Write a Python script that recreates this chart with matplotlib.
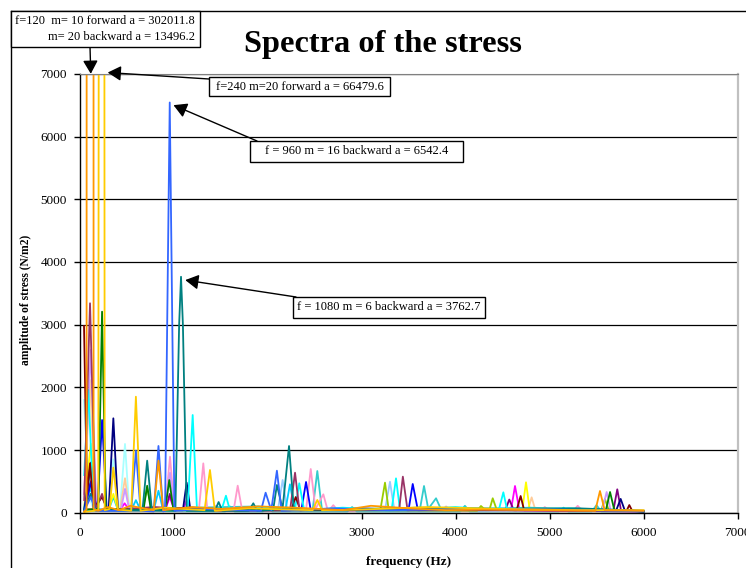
import matplotlib
matplotlib.use("Agg")
import matplotlib.pyplot as plt
from matplotlib.patches import Rectangle
from matplotlib.lines import Line2D

plt.rcParams['font.family'] = ['Liberation Serif', 'DejaVu Serif']

W, H = 746, 568

# ---------------- data (vertices) ----------------
orange_f = [50, 75, 120, 150, 200, 300, 420, 540, 790, 840, 890, 1200, 1500, 1900, 2300, 2800, 3100, 3500, 3900, 4300, 5000, 5487, 5537, 5587, 6000]
orange_a = [20, 50, 302011.8, 60, 30, 90, 40, 110, 40, 830, 40, 90, 60, 100, 80, 40, 110, 70, 40, 50, 40, 30, 346, 40, 30]

gold_f = [50, 200, 240, 268, 320, 360, 410, 550, 600, 650, 900, 1330, 1388, 1440, 1800, 2480, 2530, 2580, 3000, 3700, 4500, 5300, 6000]
gold_a = [10, 40, 66479.6, 40, 60, 720, 50, 30, 1850, 30, 80, 40, 681, 30, 70, 40, 203, 40, 50, 90, 60, 40, 40]

blue_f = [50, 120, 170, 550, 600, 650, 790, 840, 890, 910, 960, 1010, 1300, 1930, 1980, 2040, 2100, 2150, 2700, 3300, 4200, 5100, 6000]
blue_a = [30, 250, 30, 30, 990, 30, 20, 1064, 20, 30, 6542.4, 30, 60, 30, 319, 40, 670, 30, 70, 40, 60, 50, 20]

teal_f = [50, 120, 170, 670, 720, 770, 1020, 1060, 1080, 1100, 1140, 1440, 1480, 1520, 1800, 1849, 1890, 2060, 2100, 2160, 2229, 2280, 2900, 3600, 4400, 5300, 6000]
teal_a = [40, 300, 40, 40, 830, 40, 30, 3000, 3762.7, 3000, 30, 30, 170, 30, 30, 150, 30, 40, 442, 60, 1064, 60, 50, 80, 60, 70, 30]

plum_f = [50, 112, 170, 240, 290, 800, 1500, 2240, 2293, 2340, 3000, 3400, 3440, 3490, 4100, 5000, 6000]
plum_a = [200, 3340, 50, 300, 40, 90, 30, 40, 638, 40, 50, 40, 575, 40, 50, 30, 20]

darkred_f = [48, 80, 112, 150, 240, 300, 600, 1200, 1700, 2250, 2300, 2350, 3100, 4650, 4693, 4730, 5200, 5820, 5849, 5880, 6000]
darkred_a = [2977, 300, 787, 60, 250, 40, 60, 80, 40, 40, 250, 40, 60, 40, 266, 40, 50, 30, 122, 30, 20]

green_f = [50, 200, 240, 280, 680, 720, 760, 910, 955, 1000, 1600, 2600, 3400, 4500, 5600, 5644, 5690, 6000]
green_a = [50, 60, 3206, 60, 40, 430, 40, 40, 521, 40, 60, 50, 70, 60, 40, 330, 40, 20]

royal_f = [50, 120, 190, 240, 290, 700, 1400, 2360, 2410, 2460, 3000, 3500, 3545, 3600, 4700, 6000]
royal_a = [40, 480, 40, 1478, 40, 60, 50, 40, 490, 40, 70, 40, 458, 40, 60, 30]

navy_f = [50, 120, 170, 310, 360, 410, 800, 1100, 1140, 1180, 2000, 2900, 3700, 4600, 5710, 5757, 5800, 6000]
navy_a = [30, 800, 40, 40, 1505, 40, 50, 40, 479, 40, 50, 40, 60, 50, 40, 220, 40, 20]

cyan_f = [50, 94, 150, 500, 1150, 1204, 1250, 1510, 1558, 1600, 1900, 2290, 2338, 2390, 2800, 3320, 3367, 3410, 4000, 4460, 4509, 4550, 5200, 6000]
cyan_a = [600, 1957, 50, 60, 40, 1558, 40, 40, 271, 40, 90, 40, 469, 40, 80, 40, 548, 40, 90, 40, 325, 40, 70, 20]

lcyan_f = [48, 100, 150, 310, 360, 410, 430, 484, 530, 2000, 4000, 6000]
lcyan_a = [1797, 300, 40, 40, 851, 40, 40, 1096, 40, 60, 40, 20]

peach_f = [50, 112, 170, 430, 484, 530, 1700, 3000, 4770, 4810, 4850, 6000]
peach_a = [300, 2116, 50, 40, 550, 40, 60, 50, 40, 245, 40, 20]

rose_f = [50, 910, 963, 1010, 1270, 1317, 1360, 1640, 1683, 1730, 2410, 2460, 2510, 2594, 2640, 3500, 6000]
rose_a = [60, 40, 894, 40, 40, 787, 40, 40, 431, 40, 40, 697, 60, 293, 40, 50, 20]

lav_f = [50, 120, 180, 440, 484, 530, 910, 963, 1010, 3000, 5560, 5608, 5650, 6000]
lav_a = [300, 2595, 60, 40, 380, 40, 40, 638, 40, 60, 40, 330, 40, 20]

aqua_f = [50, 120, 170, 1900, 2480, 2530, 2580, 3620, 3665, 3710, 3793, 3850, 4800, 6000]
aqua_a = [80, 700, 50, 100, 40, 665, 40, 40, 426, 60, 230, 40, 80, 20]

sky_f = [50, 120, 170, 310, 360, 410, 550, 600, 650, 790, 840, 890, 2190, 2239, 2290, 4400, 6000]
sky_a = [50, 400, 40, 40, 250, 40, 40, 200, 40, 40, 350, 40, 40, 453, 40, 70, 20]

pale_f = [50, 120, 170, 2110, 2161, 2210, 3250, 3303, 3350, 6000]
pale_a = [100, 600, 40, 40, 522, 40, 40, 494, 40, 20]

lime_f = [50, 120, 170, 670, 720, 770, 3200, 3250, 3290, 4230, 4271, 4320, 4360, 4396, 4440, 5550, 5590, 5630, 6000]
lime_a = [50, 500, 40, 40, 400, 40, 40, 479, 40, 30, 107, 40, 40, 230, 40, 40, 220, 40, 20]

magenta_f = [50, 120, 170, 430, 480, 530, 910, 960, 1010, 1100, 1140, 1180, 4590, 4633, 4680, 6000]
magenta_a = [30, 300, 40, 40, 150, 40, 40, 250, 40, 40, 200, 40, 40, 426, 40, 20]

yellow_f = [50, 120, 170, 310, 360, 410, 4710, 4750, 4790, 6000]
yellow_a = [80, 1100, 40, 40, 300, 40, 40, 485, 40, 30]

purple_f = [50, 120, 170, 910, 960, 1010, 4530, 4572, 4620, 5680, 5721, 5760, 6000]
purple_a = [60, 500, 40, 40, 300, 40, 40, 210, 40, 40, 373, 40, 20]

tan_f = [50, 1400, 1450, 1500, 1750, 1800, 1850, 2650, 2700, 2750, 3850, 3900, 3950, 4900, 4950, 5000, 5250, 5300, 5350, 6000]
tan_a = [40, 30, 110, 30, 30, 90, 30, 30, 120, 30, 30, 100, 30, 30, 90, 30, 30, 110, 30, 30]

grey_f = [50, 1550, 1600, 1650, 1950, 2000, 2050, 2850, 2900, 2950, 4050, 4100, 4150, 5100, 5150, 5200, 5450, 5500, 5550, 6000]
grey_a = [30, 20, 100, 20, 20, 80, 20, 20, 90, 20, 20, 110, 20, 20, 80, 20, 20, 120, 20, 20]

# ---------------- styles ----------------
series = [
    (tan_f, tan_a, '#FF99CC'),
    (grey_f, grey_a, '#33CCCC'),
    (lcyan_f, lcyan_a, '#A8FFFF'),
    (peach_f, peach_a, '#FFCC99'),
    (pale_f, pale_a, '#99CCFF'),
    (sky_f, sky_a, '#00CCFF'),
    (lime_f, lime_a, '#99CC00'),
    (yellow_f, yellow_a, '#FFFF00'),
    (magenta_f, magenta_a, '#FF00FF'),
    (purple_f, purple_a, '#800080'),
    (aqua_f, aqua_a, '#33CCCC'),
    (rose_f, rose_a, '#FF99CC'),
    (lav_f, lav_a, '#CC99FF'),
    (navy_f, navy_a, '#000080'),
    (royal_f, royal_a, '#0000FF'),
    (cyan_f, cyan_a, '#00FFFF'),
    (darkred_f, darkred_a, '#800000'),
    (plum_f, plum_a, '#993366'),
    (green_f, green_a, '#008000'),
    (teal_f, teal_a, '#008080'),
    (blue_f, blue_a, '#3366FF'),
    (gold_f, gold_a, '#FFCC00'),
    (orange_f, orange_a, '#FF9900'),
]

fig = plt.figure(figsize=(W / 100, H / 100), dpi=100)

def fx(px):
    return px / W

def fy(py):
    return 1 - py / H

x0, x1 = 79.5, 737.5
y0, y1 = 512.7, 73.8
ax = fig.add_axes([fx(x0), fy(y0), fx(x1) - fx(x0), fy(y1) - fy(y0)])

for f, a, c in series:
    ax.plot(f, a, color=c, lw=1.3, solid_joinstyle='round')

ax.set_xlim(0, 7000)
ax.set_ylim(0, 7000)
ax.set_xticks(range(0, 7001, 1000))
ax.set_yticks(range(0, 7001, 1000))
ax.yaxis.grid(True, color='black', lw=0.9)
ax.set_axisbelow(True)
ax.tick_params(direction='out', length=4, width=1, labelsize=9.5)
ax.tick_params(axis='y', pad=5)
ax.tick_params(axis='x', pad=6)
for s in ['left', 'bottom']:
    ax.spines[s].set_color('black')
    ax.spines[s].set_linewidth(1)
ax.spines['top'].set_color('#808080')
ax.spines['right'].set_color('#C0C0C0')
ax.spines['right'].set_linewidth(1.6)

fig.text(fx(409), fy(562), 'frequency (Hz)', fontsize=9.5, fontweight='bold',
         ha='center', va='center')
fig.text(fx(26), fy(300), 'amplitude of stress (N/m2)', fontsize=8.3, fontweight='bold',
         ha='center', va='center', rotation=90)

fig.text(fx(383), fy(52), 'Spectra of the stress', fontsize=23.3, fontweight='bold',
         ha='center', va='baseline')

# outer chart frame (cropped)
fig.add_artist(Line2D([fx(10.5), fx(746)], [fy(11), fy(11)], color='black', lw=1))
fig.add_artist(Line2D([fx(10.5), fx(10.5)], [fy(11), fy(568)], color='black', lw=1))

def box(xl, xr, yt, yb):
    fig.add_artist(Rectangle((fx(xl), fy(yb)), fx(xr) - fx(xl), fy(yt) - fy(yb),
                             transform=fig.transFigure, facecolor='white',
                             edgecolor='black', lw=1, zorder=5))

def arrow(tip, tail):
    ax.annotate('', xy=tip, xycoords='data', xytext=(tail[0], H - tail[1]),
                textcoords='figure pixels', annotation_clip=False,
                arrowprops=dict(arrowstyle='-|>,head_length=0.8,head_width=0.45',
                                color='black', lw=1, shrinkA=0, shrinkB=0,
                                mutation_scale=10), zorder=6)

fs = 9
box(10.5, 200, 11, 46.5)
fig.text(fx(15), fy(21), 'f=120  m= 10 forward a = 302011.8', fontsize=fs, ha='left', va='center', zorder=7)
fig.text(fx(195), fy(36.5), 'm= 20 backward a = 13496.2', fontsize=fs, ha='right', va='center', zorder=7)
arrow((120, 7000), (90, 46.5))

box(209, 390, 77, 96)
fig.text(fx(299.5), fy(86.5), 'f=240 m=20 forward a = 66479.6', fontsize=fs, ha='center', va='center', zorder=7)
arrow((300, 7020), (209, 79))

box(250, 463, 141, 162)
fig.text(fx(356.5), fy(151.5), 'f = 960 m = 16 backward a = 6542.4', fontsize=fs, ha='center', va='center', zorder=7)
arrow((1000, 6500), (257, 141))

box(293, 485, 297, 318)
fig.text(fx(389), fy(307.5), 'f = 1080 m = 6 backward a = 3762.7', fontsize=fs, ha='center', va='center', zorder=7)
arrow((1125, 3710), (296, 297))

fig.savefig('out.png', dpi=100)
